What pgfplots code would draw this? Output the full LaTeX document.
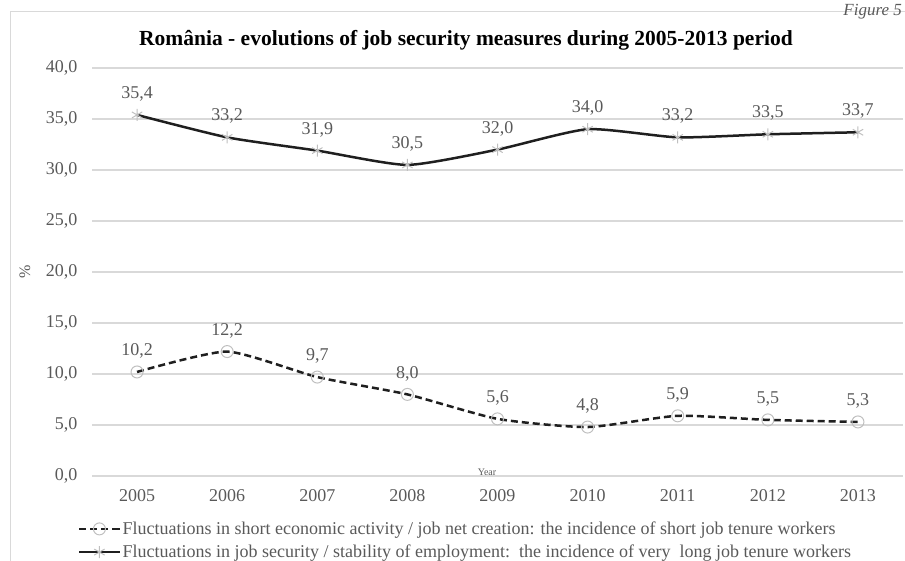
\documentclass[border=0pt]{standalone}
\usepackage{fontspec}
\setmainfont{Liberation Serif}
\usepackage{pgfplots}
\pgfplotsset{compat=1.18}
\definecolor{gridc}{HTML}{D9D9D9}
\definecolor{txt}{HTML}{595959}
\definecolor{mk}{HTML}{BFBFBF}
\definecolor{ln}{HTML}{1F1F1F}

\begin{document}
\begin{tikzpicture}
\useasboundingbox (0,0) rectangle (905pt,560pt);
\draw[gridc, line width=1pt] (10pt,-5pt) rectangle (915pt,548pt);
\node[anchor=north east, font=\itshape\fontsize{17}{17}\selectfont, text=txt, inner sep=1pt] at (903pt,557pt) {Figure 5};
\node[font=\bfseries\fontsize{21.5}{21.5}\selectfont] at (466pt,520pt)
  {România - evolutions of job security measures during 2005-2013 period};
\node[rotate=90, font=\fontsize{16}{16}\selectfont, text=txt] at (25pt,288pt) {\%};
\node[font=\fontsize{10}{10}\selectfont, text=txt] at (487pt,88pt) {Year};
\begin{axis}[
  at={(92pt,84pt)}, anchor=south west,
  width=811pt, height=408pt, scale only axis,
  xmin=2004.5, xmax=2013.5, ymin=0, ymax=40,
  xtick={2005,...,2013}, ytick={0,5,...,40},
  axis line style={draw=none}, tick style={draw=none},
  ymajorgrids, grid style={gridc, line width=1.2pt},
  /pgf/number format/assume math mode=true,
  tick label style={font=\fontsize{18}{18}\selectfont, text=txt},
  xticklabel style={yshift=-10pt, /pgf/number format/.cd, 1000 sep={}},
  yticklabel style={xshift=-11pt, /pgf/number format/.cd, fixed, fixed zerofill, precision=1, use comma},
  nodes near coords,
  every node near coord/.append style={font=\fontsize{18}{18}\selectfont, text=txt,
    anchor=center, yshift=21pt,
    /pgf/number format/.cd, fixed, fixed zerofill, precision=1, use comma},
  legend style={at={(-0.021,-0.102)}, anchor=north west, draw=none, fill=none,
    font=\fontsize{18}{18}\selectfont, text=txt, row sep=5pt,
    cells={anchor=west}},
  legend image code/.code={\draw[mark repeat=2, mark phase=2, #1]
    plot coordinates {(0pt,0pt) (20pt,0pt) (40pt,0pt)};},
]
\addplot[ln, line width=2.5pt, dash pattern=on 7pt off 4pt, smooth, tension=0.35,
  mark=o, mark size=6pt, mark options={mk, line width=1pt, solid}]
  coordinates {(2005,10.2) (2006,12.2) (2007,9.7) (2008,8.0) (2009,5.6)
               (2010,4.8) (2011,5.9) (2012,5.5) (2013,5.3)};
\addplot[ln, line width=2.5pt, smooth, tension=0.35,
  mark=asterisk, mark size=6pt, mark options={mk, line width=1pt}]
  coordinates {(2005,35.4) (2006,33.2) (2007,31.9) (2008,30.5) (2009,32.0)
               (2010,34.0) (2011,33.2) (2012,33.5) (2013,33.7)};
\legend{Fluctuations in short economic activity / job net creation: the incidence of short job tenure workers,
        Fluctuations in job security / stability of employment:\ \ the incidence of very\ \ long job tenure workers}
\end{axis}
\end{tikzpicture}
\end{document}
